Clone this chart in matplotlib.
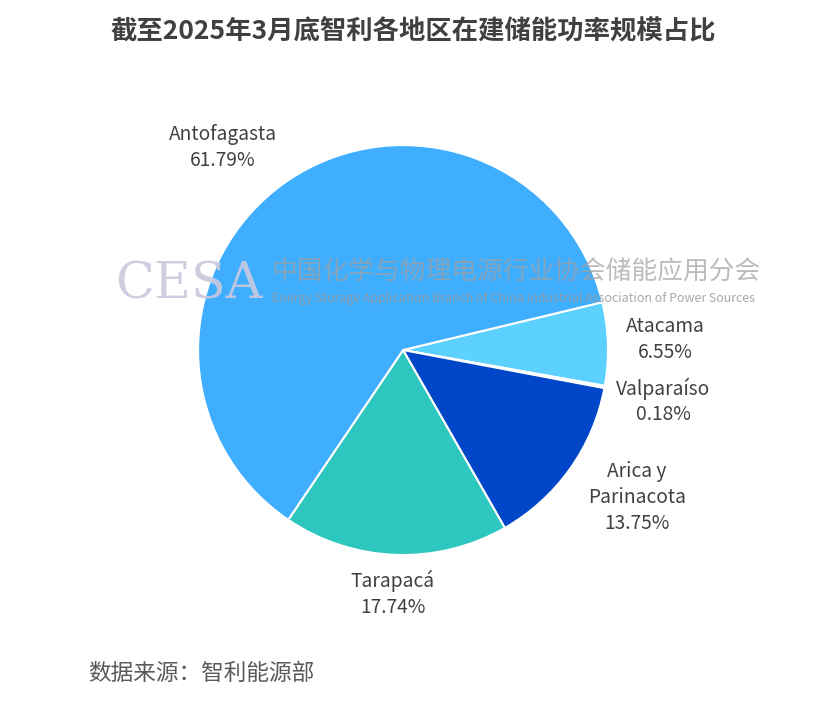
import matplotlib
matplotlib.use("Agg")
import matplotlib.pyplot as plt

plt.rcParams['font.family'] = ['Noto Sans CJK SC', 'DejaVu Sans']

# --- données ---
regions = ['Atacama', 'Valparaíso', 'Arica y\nParinacota', 'Tarapacá', 'Antofagasta']
parts = [6.55, 0.18, 13.75, 17.74, 61.79]
couleurs = ['#5CD0FF', '#A8E6FF', '#0046C8', '#2EC7C0', '#40AEFF']

titre = "截至2025年3月底智利各地区在建储能功率规模占比"
source = "数据来源：智利能源部"

# positions des étiquettes (coordonnées du camembert, rayon = 1)
pos_labels = [(1.28, 0.05), (1.27, -0.25), (1.14, -0.72), (-0.05, -1.19), (-0.88, 0.99)]

fig = plt.figure(figsize=(8.3, 7.08), dpi=100)
fig.patch.set_facecolor('white')
ax = fig.add_axes([0.2386, 0.2161, 0.494, 0.579])

wedges, _ = ax.pie(parts, colors=couleurs, startangle=13.5, counterclock=False,
                   radius=1, wedgeprops=dict(edgecolor='white', linewidth=1.5))
ax.set_xlim(-1, 1)
ax.set_ylim(-1, 1)
ax.set_aspect('equal')
ax.axis('off')

for nom, val, (x, y) in zip(regions, parts, pos_labels):
    ax.text(x, y, f"{nom}\n{val:.2f}%", ha='center', va='center', fontsize=13.8,
            color='#404040', linespacing=1.3, clip_on=False)

# filigrane
fig.text(0.139, 0.598, "CESA", fontsize=36.5, family='DejaVu Serif', color='#C9C9DD',
         alpha=0.9, ha='left', va='center')
fig.text(0.327, 0.615, "中国化学与物理电源行业协会储能应用分会", fontsize=18.5,
         color='#A0A0A0', alpha=0.7, ha='left', va='center')
fig.text(0.328, 0.579, "Energy Storage Application Branch of China Industrial Association of Power Sources",
         fontsize=8.95, color='#999999', alpha=0.85, ha='left', va='center')

fig.text(0.498, 0.955, titre, fontsize=19, fontweight='bold', color='#404040',
         ha='center', va='center')
fig.text(0.106, 0.049, source, fontsize=16.3, color='#595959', ha='left', va='center')

fig.savefig('out.png', dpi=100, facecolor='white')
